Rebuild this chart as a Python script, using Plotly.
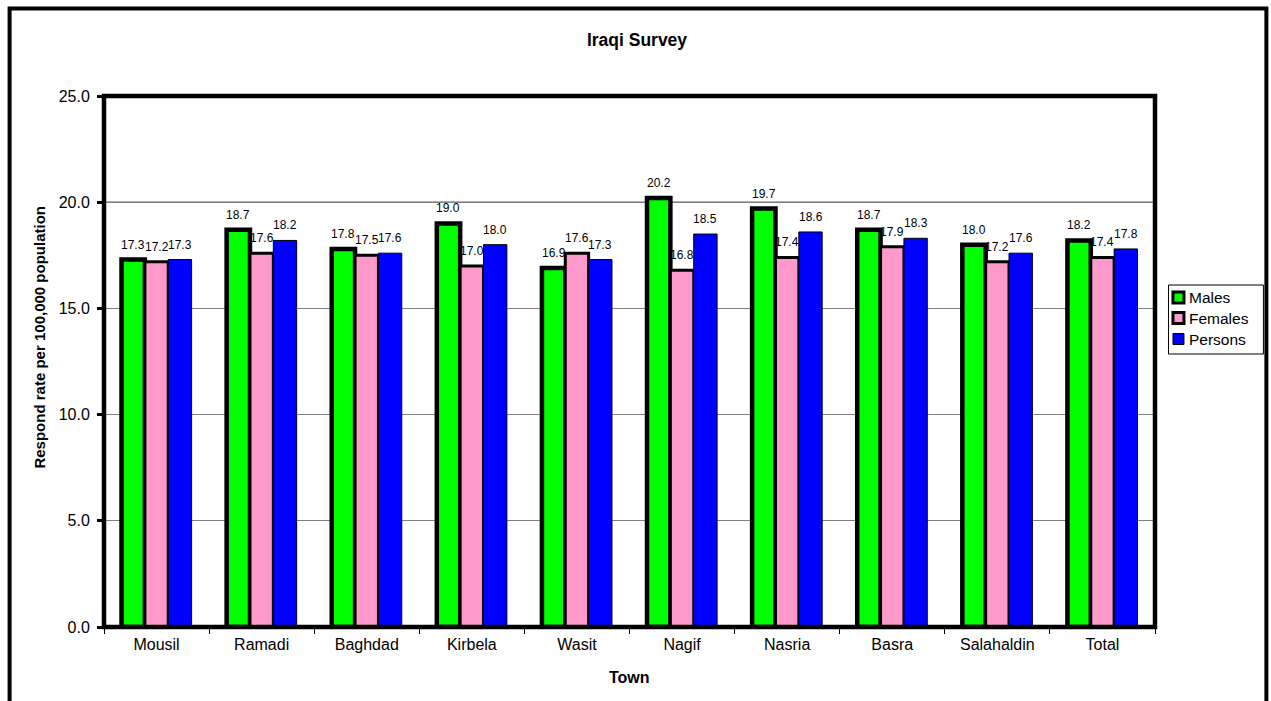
import plotly.graph_objects as go

towns = ["Mousil", "Ramadi", "Baghdad", "Kirbela", "Wasit",
         "Nagif", "Nasria", "Basra", "Salahaldin", "Total"]
males = [17.3, 18.7, 17.8, 19.0, 16.9, 20.2, 19.7, 18.7, 18.0, 18.2]
females = [17.2, 17.6, 17.5, 17.0, 17.6, 16.8, 17.4, 17.9, 17.2, 17.4]
persons = [17.3, 18.2, 17.6, 18.0, 17.3, 18.5, 18.6, 18.3, 17.6, 17.8]
y_ticks = [0, 5, 10, 15, 20, 25]

FONT = "Arial, Liberation Sans, sans-serif"

# plot-area geometry in pixels
W, H = 1271, 701
L, R, T, B = 103.5, 1155.5, 96, 627
PW, PH = R - L, B - T
BARGAP = 1.5 / 4.5


def px_x(x):
    return (x - L) / PW


def px_y(y):
    return (B - y) / PH


series = [
    ("Males", males, "#00FF00", 4.5),
    ("Females", females, "#FF99CC", 3),
    ("Persons", persons, "#0000FF", 1),
]

fig = go.Figure()
for name, vals, color, lw in series:
    fig.add_trace(go.Bar(
        name=name, x=towns, y=vals,
        marker=dict(color=color, line=dict(color="black", width=lw)),
        showlegend=False,
    ))

# value labels above each bar, offset sideways to the bar within its group
bar_px = PW / len(towns) * (1 - BARGAP) / len(series)
for k, (name, vals, color, lw) in enumerate(series):
    for town, v in zip(towns, vals):
        fig.add_annotation(
            x=town, y=v, xref="x", yref="y", text=f"{v:.1f}",
            showarrow=False, xanchor="center", yanchor="middle",
            xshift=(k - 1) * bar_px, yshift=15,
            borderpad=0,
            font=dict(family=FONT, size=12, color="black"),
        )

fig.update_layout(
    width=W, height=H,
    margin=dict(l=L, r=W - R, t=T, b=H - B, autoexpand=False),
    paper_bgcolor="white", plot_bgcolor="white",
    barmode="group", bargap=BARGAP, bargroupgap=0,
    font=dict(family=FONT, color="black"),
    title=dict(text="<b>Iraqi Survey</b>", xref="container", x=637 / W,
               xanchor="center", y=1 - 40 / H, yanchor="middle",
               font=dict(family=FONT, size=17.5, color="black")),
    showlegend=False,
)

fig.update_xaxes(
    showline=False, showgrid=False, zeroline=False,
    ticks="outside", tickson="boundaries", ticklen=6, tickwidth=1,
    tickcolor="black", ticklabelstandoff=6,
    tickfont=dict(family=FONT, size=16, color="black"),
)
fig.update_yaxes(
    range=[0, 25], tickvals=y_ticks, tickformat=".1f",
    showline=False, zeroline=False,
    showgrid=True, gridcolor="#808080", gridwidth=1,
    ticks="outside", ticklen=6, tickwidth=3, tickcolor="black",
    ticklabelstandoff=4,
    tickfont=dict(family=FONT, size=16, color="black"),
)

# black reference line at 20
fig.add_hline(y=y_ticks[4], line=dict(color="black", width=1), layer="below")

# axis titles
fig.add_annotation(
    text="<b>Respond rate per 100,000 population</b>",
    xref="paper", yref="paper", x=px_x(38.5), y=px_y(337.5),
    xanchor="center", yanchor="middle", textangle=-90, showarrow=False,
    font=dict(family=FONT, size=15, color="black"),
)
fig.add_annotation(
    text="<b>Town</b>",
    xref="paper", yref="paper", x=px_x(629), y=px_y(677),
    xanchor="center", yanchor="middle", showarrow=False,
    font=dict(family=FONT, size=16, color="black"),
)

# heavy plot-area border
fig.add_shape(type="rect", xref="paper", yref="paper", x0=0, x1=1, y0=0, y1=1,
              line=dict(color="black", width=4.5), layer="above")
# outer chart frame (open at the bottom edge of the page)
fig.add_shape(type="rect", xref="paper", yref="paper",
              x0=px_x(9), x1=px_x(1267), y0=px_y(720), y1=px_y(8.5),
              line=dict(color="black", width=4), layer="above")

# legend box with swatches
fig.add_shape(type="rect", xref="paper", yref="paper",
              x0=px_x(1169), x1=px_x(1264), y0=px_y(354), y1=px_y(285),
              line=dict(color="black", width=1), fillcolor="white")
item_y = [297.5, 318, 339]
for (name, _, color, lw), yc in zip(series, item_y):
    sw = min(lw, 3)
    fig.add_shape(type="rect", xref="paper", yref="paper",
                  x0=px_x(1173.5), x1=px_x(1184.5),
                  y0=px_y(yc + 5.5), y1=px_y(yc - 5.5),
                  fillcolor=color, line=dict(color="black", width=sw))
    fig.add_annotation(
        text=name, xref="paper", yref="paper", x=px_x(1188), y=px_y(yc),
        xanchor="left", yanchor="middle", showarrow=False,
        font=dict(family=FONT, size=15.5, color="black"),
    )

fig.write_html("out.html")
